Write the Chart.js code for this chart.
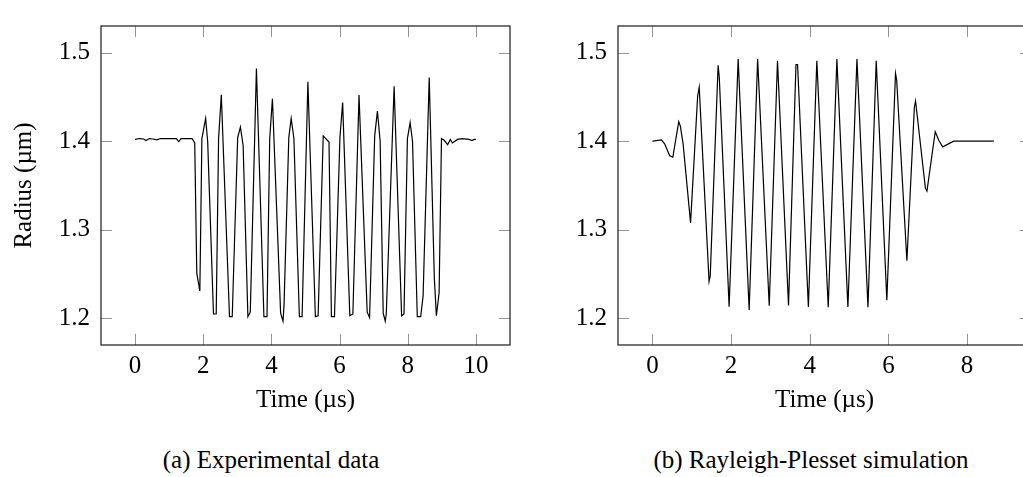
<!DOCTYPE html>
<html>
<head>
<meta charset="utf-8">
<script src="https://cdn.jsdelivr.net/npm/chart.js@4.4.1/dist/chart.umd.min.js"></script>
<style>
  html, body { margin: 0; padding: 0; background: #fff; }
  body { width: 1023px; height: 477px; overflow: hidden; position: relative; }
  canvas { position: absolute; top: 0; }
  #c1 { left: 0; }
  #c2 { left: 560px; }
  .cap { position: absolute; top: 445px; font-family: 'Liberation Serif', serif; font-size: 25px; line-height: 30px; color: #000; white-space: nowrap; transform: translateX(-50%); }
</style>
</head>
<body>
<canvas id="c1" width="560" height="420"></canvas>
<canvas id="c2" width="500" height="420"></canvas>
<div class="cap" style="left:271px">(a) Experimental data</div>
<div class="cap" style="left:811px">(b) Rayleigh-Plesset simulation</div>
<script>
// ---------- data ----------
const expTime = [0.00,0.13,0.25,0.32,0.42,0.52,0.64,0.74,1.21,1.28,1.35,1.67,1.75,1.81,1.90,1.96,2.07,2.13,
  2.30,2.38,2.45,2.53,2.77,2.85,3.01,3.09,3.17,3.31,3.38,3.56,3.78,3.87,3.95,4.03,4.27,4.34,4.37,4.51,4.58,4.66,
  4.82,4.90,5.07,5.29,5.37,5.52,5.69,5.76,5.85,6.01,6.09,6.30,6.39,6.57,6.81,6.88,7.03,7.11,7.19,7.28,7.34,7.37,
  7.60,7.82,7.89,7.99,8.07,8.14,8.28,8.38,8.45,8.63,8.78,8.84,8.92,8.99,9.07,9.17,9.25,9.31,9.46,9.60,9.80,9.88,9.95,10.00];
const expRadius = [1.4020,1.4030,1.4025,1.4007,1.4030,1.4025,1.4015,1.4030,1.4030,1.3996,1.4030,1.4030,1.3980,1.2510,1.2310,1.4030,1.4257,1.3996,
  1.2050,1.2050,1.4030,1.4525,1.2020,1.2020,1.4040,1.4160,1.3950,1.2020,1.2070,1.4820,1.2020,1.2020,1.4030,1.4480,1.2060,1.1970,1.2150,1.4040,1.4257,1.4030,
  1.2020,1.2020,1.4670,1.2020,1.2030,1.4060,1.3990,1.2020,1.2020,1.4040,1.4436,1.2030,1.2050,1.4520,1.2070,1.2010,1.4060,1.4340,1.4000,1.2060,1.1970,1.2050,
  1.4620,1.2030,1.2050,1.4030,1.4210,1.4000,1.2020,1.2020,1.2250,1.4720,1.2450,1.2030,1.2290,1.4030,1.4010,1.3960,1.4020,1.3980,1.4020,1.4030,1.4020,1.4008,1.4020,1.4020];

const simTime = [0.00,0.23,0.31,0.44,0.52,0.59,0.67,0.71,0.78,0.97,1.15,1.19,1.44,1.47,1.67,1.70,1.95,2.18,2.46,2.675,
  2.97,3.18,3.46,3.65,3.69,3.965,4.18,4.47,4.69,4.97,5.20,5.48,5.69,5.96,6.18,6.21,6.47,6.66,6.69,6.94,6.98,7.19,7.28,7.38,7.66,8.68];
const simRadius = [1.4000,1.4015,1.3970,1.3836,1.3820,1.4010,1.4220,1.4170,1.3970,1.3078,1.4510,1.4608,1.2418,1.2480,1.4857,1.4720,1.2132,1.4926,1.2096,1.4926,
  1.2143,1.4908,1.2146,1.4865,1.4865,1.2130,1.4908,1.2125,1.4926,1.2130,1.4926,1.2125,1.4908,1.2204,1.4765,1.4690,1.2650,1.4383,1.4454,1.3470,1.3436,1.4107,1.4010,1.3936,1.4000,1.4000];

const yTicks = [1.2, 1.3, 1.4, 1.5];
const xTicksA = [0, 2, 4, 6, 8, 10];
const xTicksB = [0, 2, 4, 6, 8];

// ---------- helpers ----------
const FONT = "'Liberation Serif', serif";
Chart.defaults.font.family = FONT;
Chart.defaults.color = '#000';

const framePlugin = {
  id: 'frame',
  beforeDatasetsDraw(chart) {
    const { ctx, chartArea: a, scales } = chart;
    const x = scales.x, y = scales.y;
    const L = 11;
    ctx.save();
    ctx.strokeStyle = 'rgba(0,0,0,0.42)';
    ctx.lineWidth = 1;
    ctx.beginPath();
    x.ticks.forEach(t => {
      const px = Math.round(x.getPixelForValue(t.value)) + 0.5;
      ctx.moveTo(px, a.bottom); ctx.lineTo(px, a.bottom - L);
      ctx.moveTo(px, a.top); ctx.lineTo(px, a.top + L);
    });
    y.ticks.forEach(t => {
      const py = Math.round(y.getPixelForValue(t.value)) + 0.5;
      ctx.moveTo(a.left, py); ctx.lineTo(a.left + L, py);
      ctx.moveTo(a.right, py); ctx.lineTo(a.right - L, py);
    });
    ctx.stroke();
    ctx.strokeStyle = '#1a1a1a';
    ctx.lineWidth = 1.2;
    ctx.strokeRect(a.left, a.top, a.right - a.left, a.bottom - a.top);
    ctx.restore();
  }
};

function makeChart(id, times, radii, xMin, xMax, xTicks, yAxisWidth, padRight, yTitle) {
  const data = times.map((t, i) => ({ x: t, y: radii[i] }));
  return new Chart(document.getElementById(id), {
    type: 'line',
    data: { datasets: [{ data, borderColor: '#000', borderWidth: 1.2, pointRadius: 0, tension: 0, fill: false }] },
    options: {
      responsive: false,
      animation: false,
      events: [],
      layout: { padding: { left: 0, top: 9, right: padRight, bottom: 0 } },
      plugins: { legend: { display: false }, tooltip: { enabled: false }, title: { display: false } },
      scales: {
        x: {
          type: 'linear', min: xMin, max: xMax,
          grid: { display: false, drawTicks: false },
          border: { display: false },
          afterBuildTicks: s => { s.ticks = xTicks.map(v => ({ value: v })); },
          afterFit: s => { s.height = 75; },
          ticks: { font: { size: 25 }, padding: 6, maxRotation: 0, callback: v => String(v) },
          title: { display: true, text: 'Time (µs)', font: { size: 25 }, padding: { top: 0, bottom: 5 } }
        },
        y: {
          type: 'linear', min: 1.17, max: 1.53,
          grid: { display: false, drawTicks: false },
          border: { display: false },
          afterBuildTicks: s => { s.ticks = yTicks.map(v => ({ value: v })); },
          afterFit: s => { s.width = yAxisWidth; },
          ticks: { font: { size: 25 }, padding: 11, callback: v => Number(v).toFixed(1) },
          title: { display: !!yTitle, text: yTitle || '', font: { size: 25 }, padding: { top: 9, bottom: 0 } }
        }
      }
    },
    plugins: [framePlugin]
  });
}

makeChart('c1', expTime, expRadius, -1, 11, xTicksA, 101, 50, 'Radius (µm)');
makeChart('c2', simTime, simRadius, -0.875, 9.625, xTicksB, 58, 29, null);
</script>
</body>
</html>
